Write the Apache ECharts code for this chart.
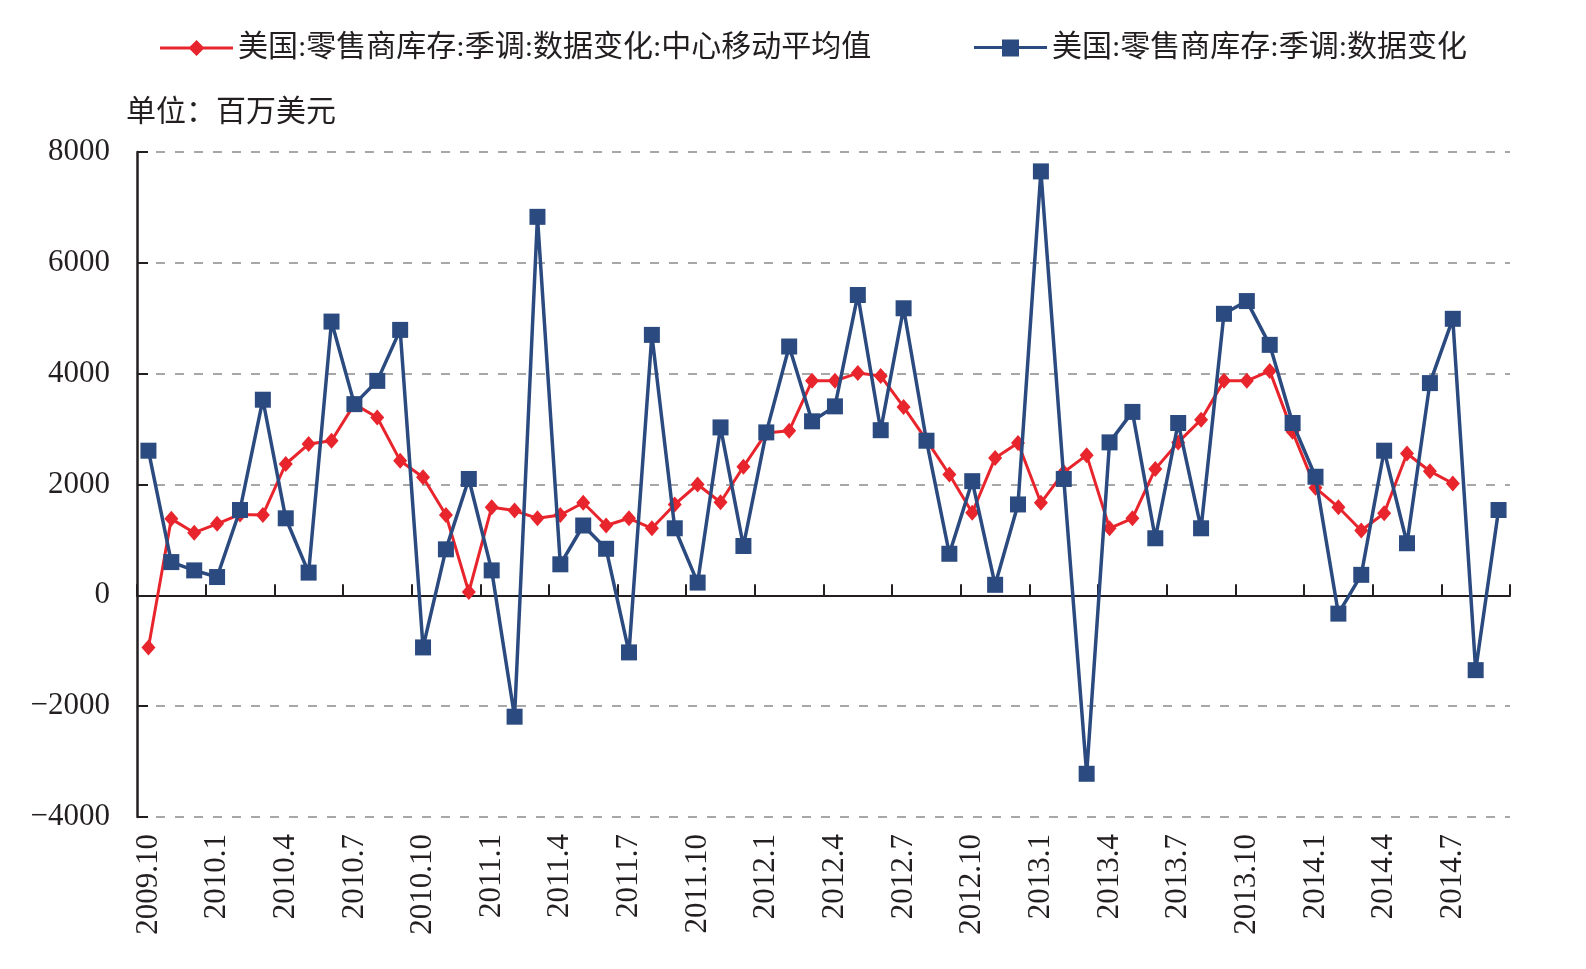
<!DOCTYPE html>
<html>
<head>
<meta charset="utf-8">
<style>
  html, body { margin: 0; padding: 0; background: #fff; }
  #chart { width: 1586px; height: 969px; }
</style>
<script src="https://cdn.jsdelivr.net/npm/echarts@6/dist/echarts.min.js"></script>
</head>
<body>
<div id="chart"></div>
<script>
var months = [
  '2009.10', '2009.11', '2009.12',
  '2010.1', '2010.2', '2010.3', '2010.4', '2010.5', '2010.6', '2010.7', '2010.8', '2010.9', '2010.10', '2010.11', '2010.12',
  '2011.1', '2011.2', '2011.3', '2011.4', '2011.5', '2011.6', '2011.7', '2011.8', '2011.9', '2011.10', '2011.11', '2011.12',
  '2012.1', '2012.2', '2012.3', '2012.4', '2012.5', '2012.6', '2012.7', '2012.8', '2012.9', '2012.10', '2012.11', '2012.12',
  '2013.1', '2013.2', '2013.3', '2013.4', '2013.5', '2013.6', '2013.7', '2013.8', '2013.9', '2013.10', '2013.11', '2013.12',
  '2014.1', '2014.2', '2014.3', '2014.4', '2014.5', '2014.6', '2014.7', '2014.8', '2014.9'
];

// 美国:零售商库存:季调:数据变化 (百万美元)
var changeValues = [
  2610, 600, 450, 330, 1540, 3530, 1390, 410, 4940, 3450,
  3870, 4790, -940, 830, 2100, 450, -2190, 6830, 560, 1260,
  840, -1030, 4700, 1210, 230, 3030, 890, 2940, 4490, 3140,
  3410, 5420, 2980, 5180, 2790, 750, 2060, 190, 1640, 7650,
  2100, -3220, 2760, 3310, 1030, 3110, 1210, 5080, 5310, 4520,
  3110, 2140, -330, 370, 2610, 940, 3830, 4990, -1350, 1540
];

// 中心移动平均值, ends at 2014.7
var movingAvg = [
  -940, 1380, 1130, 1290, 1460, 1450, 2370, 2730, 2790, 3450,
  3210, 2430, 2130, 1450, 60, 1590, 1530, 1390, 1450, 1670,
  1260, 1390, 1210, 1640, 2000, 1680, 2320, 2930, 2970, 3870,
  3870, 4010, 3960, 3400, 2800, 2180, 1490, 2480, 2750, 1670,
  2220, 2530, 1210, 1390, 2280, 2760, 3170, 3870, 3870, 4050,
  2950, 1940, 1590, 1170, 1480, 2560, 2240, 2020, null, null
];

var yTicks = { min: -4000, max: 8000, step: 2000 };

var nameAvg = '美国:零售商库存:季调:数据变化:中心移动平均值';
var nameChange = '美国:零售商库存:季调:数据变化';

var ink = '#231f20';
var red = '#e8252c';
var blue = '#2b4a7f';
var serif = '"Liberation Serif", "Times New Roman", "Noto Sans CJK SC", serif';
var legendFont = '"Liberation Serif", "Noto Sans CJK SC", sans-serif';

// legend icons: line with marker in the middle
var iconDiamond = 'path://M0,6.5L30,6.5L36.5,0L43,6.5L73,6.5L73,9.5L43,9.5L36.5,16L30,9.5L0,9.5Z';
var iconSquare = 'path://M0,6.5L28,6.5L28,0L45,0L45,6.5L73,6.5L73,9.5L45,9.5L45,17L28,17L28,9.5L0,9.5Z';

var chart = echarts.init(document.getElementById('chart'), null, { renderer: 'canvas' });
chart.setOption({
  animation: false,
  backgroundColor: '#fff',
  title: {
    text: '单位：百万美元',
    left: 121,
    top: 90,
    textStyle: { fontFamily: '"Noto Sans CJK SC", sans-serif', fontSize: 30, fontWeight: 'normal', color: ink }
  },
  legend: [
    {
      data: [{ name: nameAvg, icon: iconDiamond }],
      left: 155,
      top: 28,
      itemWidth: 73,
      itemHeight: 16,
      textStyle: { fontFamily: legendFont, fontSize: 30, color: ink }
    },
    {
      data: [{ name: nameChange, icon: iconSquare }],
      left: 969,
      top: 28,
      itemWidth: 73,
      itemHeight: 17,
      textStyle: { fontFamily: legendFont, fontSize: 30, color: ink }
    }
  ],
  grid: { left: 137, right: 76, top: 152, bottom: 152, containLabel: false },
  xAxis: [
    {
      type: 'category',
      data: months,
      boundaryGap: true,
      position: 'bottom',
      axisLine: { show: false, onZero: false },
      axisTick: { show: false },
      axisLabel: {
        interval: 2,
        rotate: 90,
        margin: 17,
        fontFamily: serif,
        fontSize: 31,
        color: ink
      },
      splitLine: { show: false }
    },
    {
      type: 'category',
      data: months,
      boundaryGap: true,
      position: 'top',
      axisLine: { show: true, onZero: true, lineStyle: { color: ink, width: 2 } },
      axisTick: { show: true, interval: 2, length: 11, lineStyle: { color: ink, width: 2 } },
      axisLabel: { show: false },
      splitLine: { show: false }
    }
  ],
  yAxis: {
    type: 'value',
    min: yTicks.min,
    max: yTicks.max,
    interval: yTicks.step,
    axisLine: { show: true, onZero: false, lineStyle: { color: ink, width: 2.5 } },
    axisTick: { show: true, inside: true, length: 11, lineStyle: { color: ink, width: 2 } },
    axisLabel: {
      margin: 27,
      fontFamily: serif,
      fontSize: 31,
      color: ink,
      formatter: function(v) { return String(v).replace('-', '\u2212'); }
    },
    splitLine: { show: true, lineStyle: { color: '#8a8a8a', width: 1.5, type: [9, 10] } }
  },
  series: [
    {
      name: nameAvg,
      type: 'line',
      xAxisIndex: 0,
      data: movingAvg,
      symbol: 'diamond',
      symbolSize: [14, 16],
      showAllSymbol: true,
      lineStyle: { color: red, width: 3 },
      itemStyle: { color: red },
      z: 3
    },
    {
      name: nameChange,
      type: 'line',
      xAxisIndex: 0,
      data: changeValues,
      symbol: 'rect',
      symbolSize: 16,
      showAllSymbol: true,
      lineStyle: { color: blue, width: 3.5 },
      itemStyle: { color: blue },
      z: 4
    }
  ]
});
window.addEventListener('resize', function() { chart.resize(); });
</script>
</body>
</html>
